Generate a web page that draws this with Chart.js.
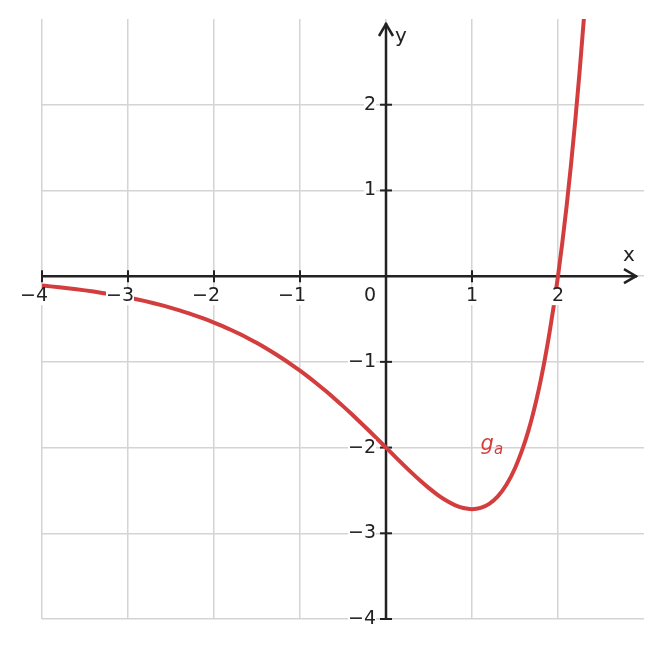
<!DOCTYPE html>
<html>
<head>
<meta charset="utf-8">
<script src="https://cdn.jsdelivr.net/npm/chart.js@4/dist/chart.umd.min.js"></script>
<style>
html,body{margin:0;padding:0;background:#fff;}
#wrap{width:661px;height:648px;}
</style>
</head>
<body>
<div id="wrap"><canvas id="c" width="661" height="648"></canvas></div>
<script>
// Curve samples: x positions and g_a values
const xValues = [-4,-3.9,-3.8,-3.7,-3.6,-3.5,-3.4,-3.3,-3.2,-3.1,-3,-2.9,-2.8,-2.7,-2.6,-2.5,-2.4,-2.3,-2.2,-2.1,-2,-1.9,-1.8,-1.7,-1.6,-1.5,-1.4,-1.3,-1.2,-1.1,-1,-0.9,-0.8,-0.7,-0.6,-0.5,-0.4,-0.3,-0.2,-0.1,0,0.1,0.2,0.3,0.4,0.5,0.6,0.7,0.8,0.9,1,1.1,1.2,1.3,1.4,1.5,1.6,1.65,1.7,1.75,1.8,1.85,1.9,1.95,2,2.05,2.1,2.15,2.2,2.25,2.3,2.35];
const gaValues = [-0.1099,-0.1194,-0.1298,-0.1409,-0.1530,-0.1661,-0.1802,-0.1955,-0.2120,-0.2297,-0.2489,-0.2696,-0.2919,-0.3159,-0.3417,-0.3694,-0.3992,-0.4311,-0.4654,-0.5021,-0.5413,-0.5833,-0.6281,-0.6759,-0.7268,-0.7810,-0.8384,-0.8994,-0.9638,-1.0319,-1.1036,-1.1791,-1.2581,-1.3408,-1.4269,-1.5163,-1.6088,-1.7039,-1.8012,-1.9002,-2,-2.0998,-2.1985,-2.2948,-2.3869,-2.4731,-2.5510,-2.6179,-2.6706,-2.7056,-2.7183,-2.7037,-2.6561,-2.5685,-2.4331,-2.2408,-1.9812,-1.8224,-1.6422,-1.4387,-1.2099,-0.9540,-0.6686,-0.3514,0,0.3884,0.8166,1.2877,1.8050,2.3719,2.9923,3.6699];
const xTicks = [-4,-3,-2,-1,1,2];
const yTicks = [-4,-3,-2,-1,1,2];
const seriesName = 'g';
const seriesSub = 'a';

const FONT = '"DejaVu Sans", sans-serif';
const AXIS = '#222222';
const RED = '#d43d3d';
const fmt = v => v < 0 ? '\u2212' + Math.abs(v) : String(v);

const axesPlugin = {
  id: 'axes',
  beforeDatasetsDraw(chart) {
    const ctx = chart.ctx, xs = chart.scales.x, ys = chart.scales.y, a = chart.chartArea;
    const x0 = xs.getPixelForValue(0), y0 = ys.getPixelForValue(0);
    ctx.save();
    ctx.strokeStyle = AXIS; ctx.lineWidth = 2.5; ctx.lineCap = 'butt';
    // x axis
    ctx.beginPath(); ctx.moveTo(a.left, y0); ctx.lineTo(a.right - 7, y0); ctx.stroke();
    ctx.beginPath(); ctx.moveTo(a.right - 20, y0 - 7); ctx.lineTo(a.right - 8, y0); ctx.lineTo(a.right - 20, y0 + 7); ctx.stroke();
    // y axis
    ctx.beginPath(); ctx.moveTo(x0, a.bottom); ctx.lineTo(x0, a.top + 4); ctx.stroke();
    ctx.beginPath(); ctx.moveTo(x0 - 7, a.top + 17); ctx.lineTo(x0, a.top + 5); ctx.lineTo(x0 + 7, a.top + 17); ctx.stroke();
    // ticks
    ctx.lineWidth = 2;
    xTicks.forEach(v => { const p = xs.getPixelForValue(v); ctx.beginPath(); ctx.moveTo(p, y0 - 6); ctx.lineTo(p, y0 + 6); ctx.stroke(); });
    yTicks.forEach(v => { const p = ys.getPixelForValue(v); ctx.beginPath(); ctx.moveTo(x0 - 6, p); ctx.lineTo(x0 + 6, p); ctx.stroke(); });
    ctx.restore();
  },
  afterDatasetsDraw(chart) {
    const ctx = chart.ctx, xs = chart.scales.x, ys = chart.scales.y, a = chart.chartArea;
    const x0 = xs.getPixelForValue(0), y0 = ys.getPixelForValue(0);
    ctx.save();
    ctx.font = '19px ' + FONT;
    ctx.textBaseline = 'middle';
    const boxed = (txt, x, y, align) => {
      ctx.textAlign = align;
      const w = ctx.measureText(txt).width;
      const lx = align === 'center' ? x - w / 2 : (align === 'right' ? x - w : x);
      ctx.fillStyle = '#fff';
      ctx.fillRect(lx, y - 8, w, 17);
      ctx.fillStyle = AXIS;
      ctx.fillText(txt, x, y);
    };
    xTicks.forEach(v => boxed(fmt(v), xs.getPixelForValue(v) - (v < 0 ? 8 : 0), y0 + 20, 'center'));
    yTicks.forEach(v => boxed(fmt(v), x0 - 10, ys.getPixelForValue(v), 'right'));
    boxed('0', x0 - 10, y0 + 20, 'right');
    ctx.fillStyle = AXIS; ctx.font = '20px ' + FONT; ctx.textAlign = 'center';
    ctx.fillText('x', a.right - 15, y0 - 20);
    ctx.fillText('y', x0 + 15, a.top + 18);
    // series label
    ctx.fillStyle = RED; ctx.textAlign = 'left';
    ctx.font = 'italic 21px ' + FONT;
    const gx = xs.getPixelForValue(1.1), gy = ys.getPixelForValue(-1.97);
    ctx.fillText(seriesName, gx, gy);
    const gw = ctx.measureText(seriesName).width;
    ctx.font = 'italic 15px ' + FONT;
    ctx.fillText(seriesSub, gx + gw, gy + 5);
    ctx.restore();
  }
};

new Chart(document.getElementById('c'), {
  type: 'scatter',
  data: {
    datasets: [{
      label: 'g_a',
      data: xValues.map((x, i) => ({ x: x, y: gaValues[i] })),
      showLine: true,
      borderColor: RED,
      borderWidth: 4,
      pointRadius: 0,
      cubicInterpolationMode: 'monotone',
      fill: false
    }]
  },
  options: {
    responsive: false,
    animation: false,
    devicePixelRatio: 1,
    layout: { padding: { left: 42, right: 17, top: 19, bottom: 29 } },
    plugins: { legend: { display: false }, tooltip: { enabled: false } },
    scales: {
      x: {
        type: 'linear', min: -4, max: 3,
        ticks: { display: false, stepSize: 1 },
        border: { display: false },
        grid: { drawTicks: false, lineWidth: 1.5, color: c => c.tick && c.tick.value === 3 ? 'rgba(0,0,0,0)' : '#d4d4d4' }
      },
      y: {
        type: 'linear', min: -4, max: 3,
        ticks: { display: false, stepSize: 1 },
        border: { display: false },
        grid: { drawTicks: false, lineWidth: 1.5, color: c => c.tick && c.tick.value === 3 ? 'rgba(0,0,0,0)' : '#d4d4d4' }
      }
    }
  },
  plugins: [axesPlugin]
});
</script>
</body>
</html>
